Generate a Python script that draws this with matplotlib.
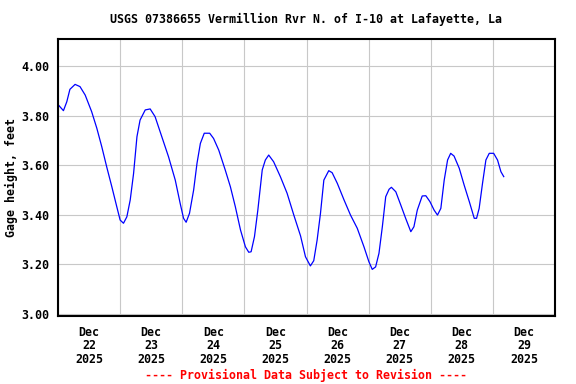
import matplotlib
matplotlib.use("Agg")
import matplotlib.pyplot as plt
import matplotlib.dates as mdates
import numpy as np
import pandas as pd

# hours since 2025-12-22 00:00 and gage height (ft)
hours = [0.4, 2.1, 3.4, 4.6, 6.6, 8.5, 10.5, 13.0, 15.0, 16.9, 18.8, 20.8, 22.7,
         24.0, 25.3, 26.6, 27.9, 29.2, 30.5, 31.7, 33.7, 35.6, 37.5, 40.1, 42.7,
         45.3, 47.2, 48.5, 49.5, 50.8, 52.4, 53.7, 55.0, 56.5, 58.6, 60.1, 62.1,
         64.6, 66.6, 68.5, 70.5, 72.4, 73.7, 74.6, 75.9, 77.2, 78.9, 80.1, 81.4,
         83.3, 85.9, 88.5, 91.1, 93.7, 95.6, 97.5, 98.8, 100.1, 101.4, 102.7,
         104.6, 105.9, 107.9, 110.5, 113.0, 115.6, 118.2, 120.1, 121.4, 122.7,
         124.0, 125.3, 126.6, 127.9, 128.8, 130.5, 132.4, 134.3, 136.3, 137.5,
         138.8, 140.7, 142.1, 143.7, 145.3, 146.6, 147.9, 149.2, 150.5, 151.7,
         153.0, 155.0, 156.9, 158.9, 160.8, 161.7, 162.7, 164.0, 165.3, 166.6,
         168.3, 169.8, 171.1, 172.2]
gage = [3.84, 3.82, 3.856, 3.906, 3.926, 3.917, 3.883, 3.816, 3.749, 3.675, 3.594,
        3.513, 3.433, 3.379, 3.366, 3.392, 3.46, 3.567, 3.715, 3.782, 3.823, 3.827,
        3.796, 3.715, 3.634, 3.54, 3.446, 3.386, 3.37, 3.406, 3.50, 3.608, 3.688,
        3.729, 3.729, 3.708, 3.661, 3.581, 3.513, 3.433, 3.339, 3.271, 3.249, 3.251,
        3.312, 3.419, 3.581, 3.621, 3.641, 3.614, 3.554, 3.487, 3.399, 3.315, 3.231,
        3.194, 3.215, 3.298, 3.406, 3.54, 3.578, 3.57, 3.527, 3.46, 3.399, 3.346,
        3.271, 3.211, 3.18, 3.19, 3.245, 3.352, 3.473, 3.503, 3.511, 3.493, 3.44,
        3.386, 3.332, 3.352, 3.419, 3.476, 3.477, 3.453, 3.419, 3.399, 3.426, 3.54,
        3.621, 3.648, 3.637, 3.588, 3.52, 3.453, 3.386, 3.386, 3.426, 3.527, 3.621,
        3.648, 3.648, 3.621, 3.574, 3.554]

yticks = [3.00, 3.20, 3.40, 3.60, 3.80, 4.00]
start = pd.Timestamp("2025-12-22 00:00")
times = start + pd.to_timedelta(hours, unit="h")

mono = {"family": "DejaVu Sans Mono", "weight": "bold", "size": 8.4}

fig = plt.figure(figsize=(5.76, 3.84), dpi=100)
ax = fig.add_axes([58/576, 1-316/384, 497/576, 277/384])

ax.plot(times, gage, color="#0000ff", lw=0.9)

ax.set_xlim(start, start + pd.Timedelta(days=8))
ax.set_ylim(2.992, 4.109)

# gridlines at midnight, labels at noon
ax.xaxis.set_major_locator(mdates.DayLocator())
ax.xaxis.set_major_formatter(plt.NullFormatter())
ax.xaxis.set_minor_locator(mdates.HourLocator(byhour=12))
ax.xaxis.set_minor_formatter(mdates.DateFormatter("%b\n%d\n%Y"))
ax.set_yticks(yticks)
ax.set_yticklabels([f"{v:.2f}" for v in yticks])

ax.grid(True, which="major", color="#c8c8c8", lw=0.8)
ax.set_axisbelow(True)
ax.tick_params(which="both", length=0)
ax.tick_params(axis="x", which="minor", pad=7)
ax.tick_params(axis="y", pad=6)
for lab in ax.get_xticklabels(minor=True) + ax.get_yticklabels():
    lab.set_fontfamily(mono["family"])
    lab.set_fontweight("bold")
    lab.set_fontsize(mono["size"])
    lab.set_linespacing(1.05)

for s in ax.spines.values():
    s.set_linewidth(1.5)
    s.set_color("black")

ax.set_ylabel("Gage height, feet", fontdict=mono)
ax.yaxis.set_label_coords((18 - 58) / 497, 0.5)
fig.text(306/576, 1-19/384, "USGS 07386655 Vermillion Rvr N. of I-10 at Lafayette, La",
         ha="center", va="center", **mono)
fig.text(306/576, 1-375/384, "---- Provisional Data Subject to Revision ----",
         ha="center", va="center", color="red", **mono)

fig.savefig("out.png", dpi=100)
